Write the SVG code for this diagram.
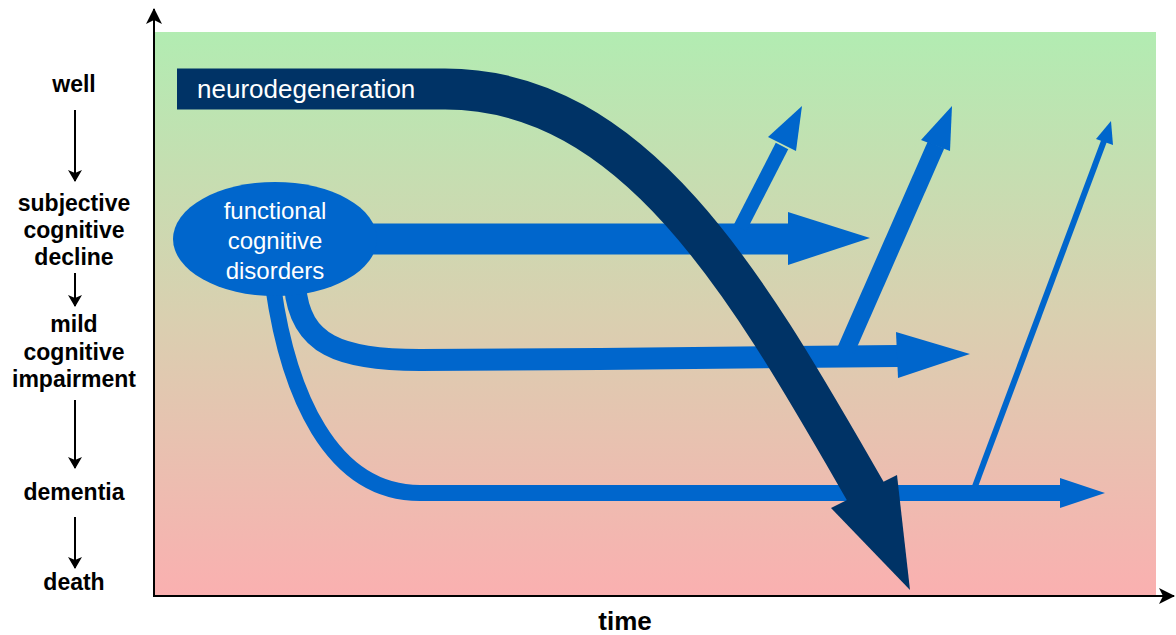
<svg xmlns="http://www.w3.org/2000/svg" width="1176" height="635" viewBox="0 0 1176 635">
<defs>
<linearGradient id="bg" x1="0" y1="0" x2="0" y2="1">
<stop offset="0" stop-color="#b2ecb2"/>
<stop offset="0.5" stop-color="#d9d0b0"/>
<stop offset="1" stop-color="#fab0b0"/>
</linearGradient>
<marker id="ah" markerWidth="12" markerHeight="14" viewBox="0 0 12 14" refX="11" refY="7" orient="auto" markerUnits="userSpaceOnUse">
<path d="M0,0 L12,7 L0,14 L3,7 Z" fill="#000"/>
</marker>
<marker id="axh" markerWidth="16" markerHeight="16" viewBox="0 0 16 16" refX="15" refY="8" orient="auto" markerUnits="userSpaceOnUse">
<path d="M0,0 L16,8 L0,16 L4,8 Z" fill="#000"/>
</marker>
</defs>
<style>
.lbl{font-family:"Liberation Sans",Arial,sans-serif;font-weight:bold;font-size:23px;fill:#000;text-anchor:middle}
.wt{font-family:"Liberation Sans",Arial,sans-serif;fill:#fff}
.blu{fill:none;stroke:#0066cc}
.bluf{fill:#0066cc}
.nav{fill:#003366}
.ax{stroke:#000;stroke-width:2;fill:none}
.sarr{stroke:#000;stroke-width:2;fill:none;marker-end:url(#ah)}
</style>
<rect x="155" y="32" width="1001" height="563" fill="url(#bg)"/>
<g id="axes">
<line class="ax" x1="154" y1="597" x2="154" y2="9" marker-end="url(#axh)"/>
<line class="ax" x1="153" y1="596" x2="1174" y2="596" marker-end="url(#axh)"/>
<text class="lbl" x="625" y="630" style="font-size:26px">time</text>
</g>
<g id="stages">
<g id="well"><text class="lbl" x="74" y="92">well</text></g>
<g id="scd"><text class="lbl" x="74" y="211">subjective</text><text class="lbl" x="74" y="238">cognitive</text><text class="lbl" x="74" y="265">decline</text></g>
<g id="mci"><text class="lbl" x="74" y="332">mild</text><text class="lbl" x="74" y="360">cognitive</text><text class="lbl" x="74" y="387">impairment</text></g>
<g id="dementia"><text class="lbl" x="74" y="500">dementia</text></g>
<g id="death"><text class="lbl" x="74" y="590">death</text></g>
</g>
<g id="stage-arrows">
<line class="sarr" x1="75" y1="110" x2="75" y2="181"/>
<line class="sarr" x1="75" y1="273" x2="75" y2="306"/>
<line class="sarr" x1="75" y1="400" x2="75" y2="468"/>
<line class="sarr" x1="75" y1="517" x2="75" y2="568"/>
</g>
<g id="connectors">
<line class="blu" x1="330" y1="239" x2="792" y2="239" stroke-width="31"/>
<polygon class="bluf" points="788,212 870,238 788,265"/>
<line class="blu" x1="740" y1="228" x2="782" y2="146" stroke-width="14"/>
<polygon class="bluf" points="768,137 802,106 796,151"/>
<path class="blu" d="M295 286 C300 345 340 360 420 360 L600 359 L898 356" stroke-width="22"/>
<polygon class="bluf" points="896,332 970,354 898,378"/>
<line class="blu" x1="846" y1="350" x2="936" y2="145" stroke-width="18"/>
<polygon class="bluf" points="921,140 952,106 950,151"/>
<path class="blu" d="M273 286 C288 392 330 493 420 493 L1062 493" stroke-width="16"/>
<polygon class="bluf" points="1060,478 1105,493 1060,508"/>
<line class="blu" x1="974" y1="489" x2="1104" y2="141" stroke-width="6"/>
<polygon class="bluf" points="1096,139 1111,121 1113,145"/>
</g>
<g id="fcd">
<ellipse class="bluf" cx="275" cy="239" rx="102" ry="57"/>
<text class="wt" x="275" y="219" font-size="24" text-anchor="middle">functional</text>
<text class="wt" x="275" y="249" font-size="24" text-anchor="middle">cognitive</text>
<text class="wt" x="275" y="279" font-size="24" text-anchor="middle">disorders</text>
</g>
<g id="neurodegeneration">
<path d="M177 89 L445 89 C640 89 755 300 867 494" fill="none" stroke="#003366" stroke-width="41"/>
<polygon class="nav" points="897,475 910,590 831,508"/>
<text class="wt" x="197" y="98" font-size="26">neurodegeneration</text>
</g>
</svg>
